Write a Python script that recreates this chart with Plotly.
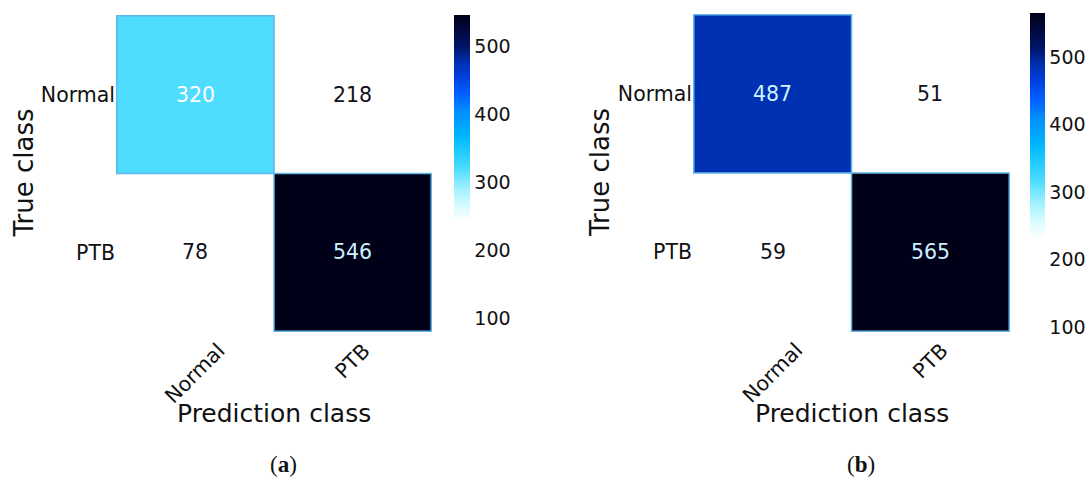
import plotly.graph_objects as go

# Confusion matrices for the two classifiers
classes = ["Normal", "PTB"]
cm_a = [[320, 218],
        [78, 546]]
cm_b = [[487, 51],
        [59, 565]]
panel_labels = ["a", "b"]
cbar_ticks = [100, 200, 300, 400, 500]

W, H = 1091, 479

# white -> cyan -> blue -> navy colour ramp
colorscale = [
    [0.00, "#ffffff"],
    [0.35, "#ffffff"],
    [0.40, "#d8fcff"],
    [0.45, "#a4f1ff"],
    [0.52, "#4adbff"],
    [0.57, "#22cbff"],
    [0.62, "#00b6ff"],
    [0.70, "#008cff"],
    [0.75, "#0060ff"],
    [0.80, "#0042e2"],
    [0.85, "#0030b0"],
    [0.90, "#001468"],
    [1.00, "#000018"],
]
WHITE_LIMIT = 0.36


def fx(p):
    return p / W


def fy(p):
    return 1 - p / H


# plot-area boxes in pixels: (left, right, top, bottom)
boxes = [(116, 432, 15, 332), (693, 1010, 14, 332)]
# colour bars: (left px, top px, length px, thickness)
cbars = [(454, 15, 318, 16), (1030, 13, 347, 15)]

fig = go.Figure()
annotations = []
shapes = []
font_family = "DejaVu Sans"
ink = "#111111"

for k, cm in enumerate([cm_a, cm_b]):
    left, right, top, bottom = boxes[k]
    xa = "x" if k == 0 else "x2"
    ya = "y" if k == 0 else "y2"
    zmin = min(min(r) for r in cm)
    zmax = max(max(r) for r in cm)
    cx, ctop, clen, cth = cbars[k]

    fig.add_trace(go.Heatmap(
        z=cm, x=classes, y=classes, xaxis=xa, yaxis=ya,
        zmin=zmin, zmax=zmax, colorscale=colorscale,
        colorbar=dict(
            x=fx(cx), xanchor="left", y=fy(ctop), yanchor="top",
            lenmode="pixels", len=clen, thickness=cth,
            xpad=0, ypad=0, outlinewidth=0,
            tickvals=cbar_ticks, ticks="",
            tickfont=dict(family=font_family, size=19, color=ink),
        ),
        hoverinfo="skip",
    ))

    lay_x = "xaxis" if k == 0 else "xaxis2"
    lay_y = "yaxis" if k == 0 else "yaxis2"
    fig.layout[lay_x] = dict(
        domain=[fx(left), fx(right)], anchor=ya,
        showgrid=False, zeroline=False, showline=False,
        showticklabels=False, ticks="", categoryorder="array",
        categoryarray=classes,
    )
    fig.layout[lay_y] = dict(
        domain=[fy(bottom), fy(top)], anchor=xa,
        showgrid=False, zeroline=False, showline=False,
        ticks="", autorange="reversed", categoryorder="array",
        categoryarray=classes,
        tickfont=dict(family=font_family, size=20.5, color=ink),
    )

    # cell values and edges of shaded cells
    for i, row_name in enumerate(classes):
        for j, col_name in enumerate(classes):
            v = cm[i][j]
            t = (v - zmin) / (zmax - zmin)
            if t < WHITE_LIMIT:
                col = "#111122"
            elif t < 0.6:
                col = "#ffffff"
            else:
                col = "#cdf3ff"
            annotations.append(dict(
                x=col_name, y=row_name, xref=xa, yref=ya, text=str(v),
                showarrow=False,
                font=dict(family=font_family, size=20.5, color=col),
            ))
            if t >= WHITE_LIMIT:
                shapes.append(dict(
                    type="rect", xref=xa, yref=ya,
                    x0=j - 0.5, x1=j + 0.5, y0=i - 0.5, y1=i + 0.5,
                    line=dict(color="#62b6ea", width=1.5),
                    fillcolor="rgba(0,0,0,0)", layer="above",
                ))

    # rotated category labels under the columns
    for j, col_name in enumerate(classes):
        annotations.append(dict(
            x=col_name, xref=xa, y=fy(336), yref="paper",
            text=col_name, textangle=-45, showarrow=False,
            xanchor="center", yanchor="top",
            font=dict(family=font_family, size=20.5, color=ink),
        ))

    mid_x = (left + right) / 2
    mid_y = (top + bottom) / 2
    annotations.append(dict(
        x=fx(mid_x), y=fy(413), xref="paper", yref="paper",
        text="Prediction class", showarrow=False,
        xanchor="center", yanchor="middle",
        font=dict(family=font_family, size=25, color=ink),
    ))
    annotations.append(dict(
        x=fx(left - 93), y=fy(mid_y), xref="paper", yref="paper",
        text="True class", textangle=-90, showarrow=False,
        xanchor="center", yanchor="middle",
        font=dict(family=font_family, size=26, color=ink),
    ))
    annotations.append(dict(
        x=fx(mid_x + 9), y=fy(464), xref="paper", yref="paper",
        text="(<b>" + panel_labels[k] + "</b>)", showarrow=False,
        xanchor="center", yanchor="middle",
        font=dict(family="Liberation Serif", size=23, color=ink),
    ))

fig.update_layout(
    width=W, height=H,
    margin=dict(l=0, r=0, t=0, b=0),
    paper_bgcolor="white", plot_bgcolor="white",
    annotations=annotations, shapes=shapes,
    showlegend=False,
)

fig.write_html("out.html")
